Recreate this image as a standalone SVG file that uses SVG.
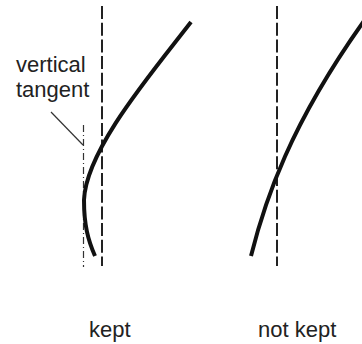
<svg xmlns="http://www.w3.org/2000/svg" width="362" height="344" viewBox="0 0 362 344">
<style>
.lbl{font-family:"Liberation Sans",Arial,sans-serif;font-size:22px;fill:#222}
.dash{stroke:#222;stroke-width:2;stroke-dasharray:13 3.7;fill:none}
.dashdot{stroke:#333;stroke-width:1.2;stroke-dasharray:7 3 1 3;fill:none}
.curve{stroke:#111;stroke-width:4;fill:none}
.lead{stroke:#333;stroke-width:1.2;fill:none}
</style>
<rect width="362" height="344" fill="#fff"/>
<g id="kept">
<line class="dash" x1="102" y1="6" x2="102" y2="266"/>
<line class="dashdot" x1="83.5" y1="125" x2="83.5" y2="267"/>
<path class="curve" d="M191,22 C150,75 86,150 84,200 C84,225 88,240 95,256"/>
<text class="lbl" x="16" y="72">vertical</text>
<text class="lbl" x="16" y="97">tangent</text>
<text class="lbl" x="89" y="337">kept</text>
</g>
<g id="notkept">
<line class="dash" x1="277" y1="6" x2="277" y2="266"/>
<path class="curve" d="M251,256 C265,200 290,125 364,21"/>
<text class="lbl" x="258" y="337">not kept</text>
</g>
<g id="connectors">
<line class="lead" x1="51" y1="112" x2="83" y2="145"/>
</g>
</svg>
